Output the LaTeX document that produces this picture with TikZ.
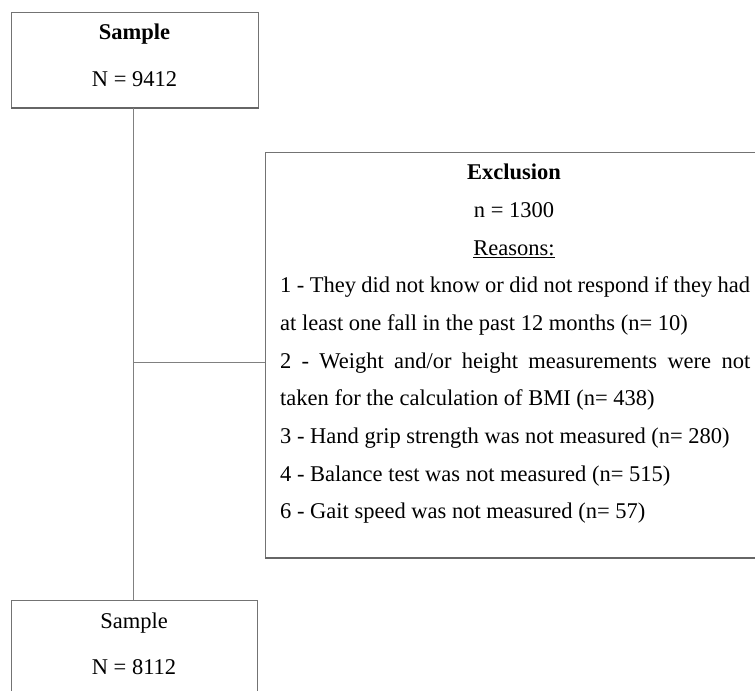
\documentclass[tikz,border=0pt]{standalone}
\usepackage{fontspec}
\setmainfont{Liberation Serif}
\begin{document}
\begin{tikzpicture}[x=1bp,y=-1bp,
  boxline/.style={draw=black!55,line width=0.9bp},
  shadowline/.style={draw=black!60,line width=2.2bp},
  conn/.style={draw=black!50,line width=0.9bp},
  txt/.style={inner sep=0pt,font=\fontsize{22.5bp}{26bp}\selectfont,text=black},
  ltxt/.style={txt,anchor=base west},
  ctxt/.style={txt,anchor=base}]
\useasboundingbox (0,0) rectangle (755,691);
\clip (0,0) rectangle (755,691);
\fill[white] (0,0) rectangle (755,691);
% boxes
\node[boxline,rectangle,inner sep=0pt,minimum width=247bp,minimum height=95bp,anchor=north west] (top) at (11,12) {};
\draw[shadowline] (top.south west) -- (top.south east);
\node[boxline,rectangle,inner sep=0pt,minimum width=246bp,minimum height=120bp,anchor=north west] (bot) at (11,600) {};
\node[boxline,rectangle,inner sep=0pt,minimum width=520bp,minimum height=405bp,anchor=north west] (excl) at (265,152) {};
\draw[shadowline] (excl.south west) -- (excl.south east);
% connectors
\coordinate (vtop) at (133,108);
\coordinate (vbot) at (133,600);
\coordinate (j) at (133,362);
\draw[conn] (vtop) -- (vbot);
\draw[conn] (j) -- (j -| excl.west);
% top box text
\node[ctxt,font=\fontsize{22.5bp}{26bp}\selectfont\bfseries] (t1) at (134.5,40) {Sample};
\node[ctxt] (t2) at (134.5,87) {N = 9412};
% bottom box text
\node[ctxt] (b1) at (134,628) {Sample};
\node[ctxt] (b2) at (134,674) {N = 8112};
% exclusion text
\node[ctxt,font=\fontsize{22.5bp}{26bp}\selectfont\bfseries] (e1) at (514,179) {Exclusion};
\node[ctxt] (e2) at (514,217) {n = 1300};
\node[ctxt] (e3) at (514,255) {\underline{Reasons:}};
\node[ltxt] (r1) at (280,292) {\makebox[470bp][s]{1 - They did not know or did not respond if they had}};
\node[ltxt] (r2) at (280,330) {at least one fall in the past 12 months (n= 10)};
\node[ltxt] (r3) at (280,368) {\makebox[470bp][s]{2 - Weight and/or height measurements were not}};
\node[ltxt] (r4) at (280,405) {taken for the calculation of BMI (n= 438)};
\node[ltxt] (r5) at (280,443) {3 - Hand grip strength was not measured (n= 280)};
\node[ltxt] (r6) at (280,481) {4 - Balance test was not measured (n= 515)};
\node[ltxt] (r7) at (280,518) {6 - Gait speed was not measured (n= 57)};
\end{tikzpicture}
\end{document}
